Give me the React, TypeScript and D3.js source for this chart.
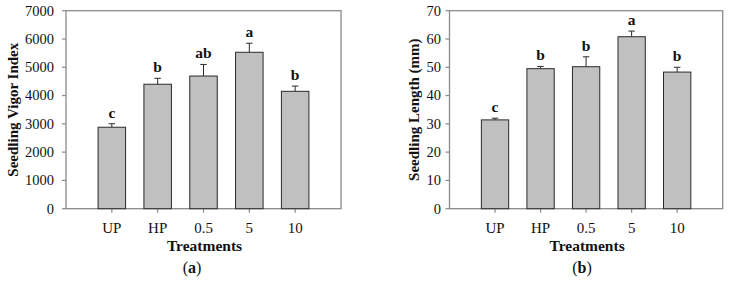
import React from "react";
import * as d3 from "d3";

const categories = ["UP", "HP", "0.5", "5", "10"];
const vigorMean = [2880, 4400, 4690, 5530, 4150];
const vigorErr = [125, 210, 410, 320, 185];
const vigorLetters = ["c", "b", "ab", "a", "b"];
const vigorTicks = [0, 1000, 2000, 3000, 4000, 5000, 6000, 7000];

const lengthMean = [31.4, 49.5, 50.2, 60.8, 48.3];
const lengthErr = [0.6, 0.8, 3.5, 2.0, 1.7];
const lengthLetters = ["c", "b", "b", "a", "b"];
const lengthTicks = [0, 10, 20, 30, 40, 50, 60, 70];

const FONT = "'Liberation Serif', 'Times New Roman', serif";

type PanelProps = {
  x0: number;
  x1: number;
  yMax: number;
  ticks: number[];
  means: number[];
  errs: number[];
  letters: string[];
  yTitle: string;
  titleX: number;
  tickLabelX: number;
  label: string;
  labelX: number;
};

function Panel(p: PanelProps) {
  const top = 10.7;
  const bottom = 208.7;
  const x = d3.scaleLinear().domain([0, categories.length + 1]).range([p.x0, p.x1]);
  const y = d3.scaleLinear().domain([0, p.yMax]).range([bottom, top]);
  const bw = x(0.6) - x(0);
  const frame = "#8a8a8a";
  const cx = (p.x0 + p.x1) / 2;
  return (
    <g>
      <rect x={p.x0} y={top} width={p.x1 - p.x0} height={bottom - top} fill="none" stroke={frame} strokeWidth={1.3} />
      {p.ticks.map((t) => (
        <g key={t}>
          <line x1={p.x0 - 4} x2={p.x0} y1={y(t)} y2={y(t)} stroke={frame} strokeWidth={1.2} />
          <text x={p.tickLabelX} y={y(t)} dy="0.34em" textAnchor="end" fontFamily={FONT} fontSize={14.5} fill="#111">
            {t}
          </text>
        </g>
      ))}
      {categories.map((c, i) => {
        const xc = x(i + 1);
        const yt = y(p.means[i]);
        const ye = y(p.means[i] + p.errs[i]);
        return (
          <g key={c}>
            <line x1={xc} x2={xc} y1={bottom} y2={bottom + 4} stroke={frame} strokeWidth={1.2} />
            <rect x={xc - bw / 2} y={yt} width={bw} height={bottom - yt} fill="#c0c0c0" stroke="#2a2a2a" strokeWidth={1} />
            <line x1={xc} x2={xc} y1={yt} y2={ye} stroke="#2a2a2a" strokeWidth={1} />
            <line x1={xc - 3.2} x2={xc + 3.2} y1={ye} y2={ye} stroke="#2a2a2a" strokeWidth={1} />
            <text x={xc} y={ye - 6} textAnchor="middle" fontFamily={FONT} fontWeight="bold" fontSize={15.5} fill="#111">
              {p.letters[i]}
            </text>
            <text x={xc} y={233} textAnchor="middle" fontFamily={FONT} fontSize={15} fill="#111">
              {c}
            </text>
          </g>
        );
      })}
      <text x={cx + 1} y={251} textAnchor="middle" fontFamily={FONT} fontWeight="bold" fontSize={15.5} fill="#111">
        Treatments
      </text>
      <text
        transform={`translate(${p.titleX},${(top + bottom) / 2}) rotate(-90)`}
        textAnchor="middle"
        fontFamily={FONT}
        fontWeight="bold"
        fontSize={15}
        fill="#111"
      >
        {p.yTitle}
      </text>
      <text x={p.labelX} y={273} textAnchor="middle" fontFamily={FONT} fontSize={16} fill="#111">
        (<tspan fontWeight="bold">{p.label}</tspan>)
      </text>
    </g>
  );
}

export default function App() {
  return (
    <svg width={731} height={285} style={{ position: "absolute", left: 0, top: 0, background: "#fff" }}>
      <rect width={731} height={285} fill="#fff" />
      <Panel
        x0={66}
        x1={341}
        yMax={7000}
        ticks={vigorTicks}
        means={vigorMean}
        errs={vigorErr}
        letters={vigorLetters}
        yTitle="Seedling Vigor Index"
        titleX={18}
        tickLabelX={54}
        label="a"
        labelX={192}
      />
      <Panel
        x0={449.5}
        x1={722.7}
        yMax={70}
        ticks={lengthTicks}
        means={lengthMean}
        errs={lengthErr}
        letters={lengthLetters}
        yTitle="Seedling Length (mm)"
        titleX={419}
        tickLabelX={441}
        label="b"
        labelX={582}
      />
    </svg>
  );
}
